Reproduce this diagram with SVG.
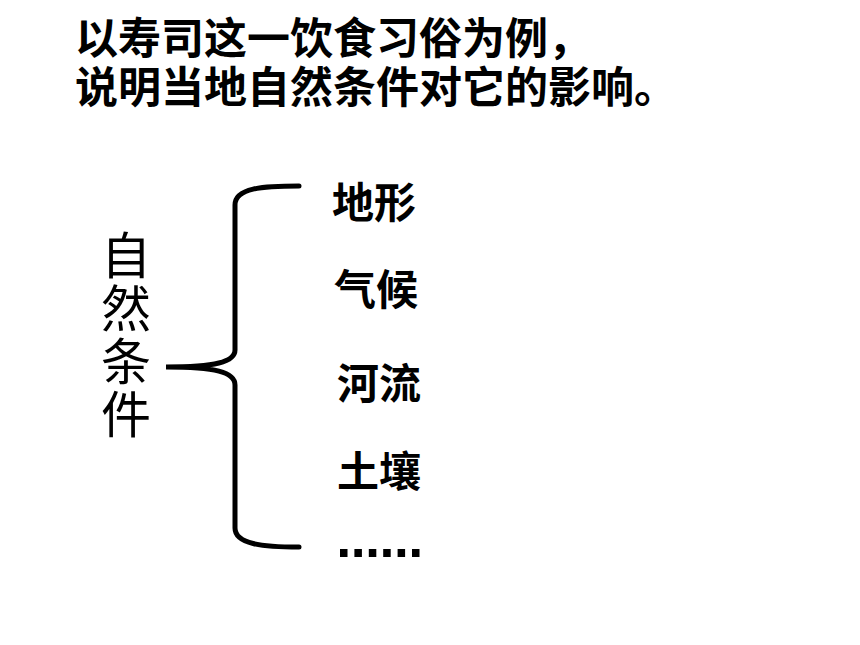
<svg xmlns="http://www.w3.org/2000/svg" width="860" height="645" viewBox="0 0 860 645">
<style>
.t{font-family:"Liberation Sans","Noto Sans CJK SC",sans-serif;font-weight:bold;fill:#000;font-size:43px}
.v{font-family:"Noto Sans CJK SC","Liberation Sans",sans-serif;font-weight:normal;fill:#000;font-size:50px;writing-mode:vertical-rl;letter-spacing:3px}
.i{font-family:"Noto Sans CJK SC","Liberation Sans",sans-serif;font-weight:bold;fill:#000;font-size:42px}
.br{fill:none;stroke:#000;stroke-width:5;stroke-linecap:round}
.d{fill:#000}
</style>
<rect width="860" height="645" fill="#fff"/>
<g id="title">
<text class="t" x="75" y="54">以寿司这一饮食习俗为例，</text>
<text class="t" x="75" y="103">说明当地自然条件对它的影响。</text>
</g>
<g id="root">
<text class="v" x="126" y="230">自然条件</text>
</g>
<g id="connectors">
<path class="br" d="M299,186 C262,186 235,188 235,205 L235,350 C235,362 215,367 166,367 C215,367 235,372 235,385 L235,528 C235,544 262,547 299,547"/>
</g>
<g id="item1"><text class="i" x="332" y="218">地形</text></g>
<g id="item2"><text class="i" x="334" y="305">气候</text></g>
<g id="item3"><text class="i" x="337" y="399">河流</text></g>
<g id="item4"><text class="i" x="337" y="487">土壤</text></g>
<g id="item5">
<rect class="d" x="340" y="549" width="7.5" height="8"/>
<rect class="d" x="354.4" y="549" width="7.5" height="8"/>
<rect class="d" x="368.8" y="549" width="7.5" height="8"/>
<rect class="d" x="383.2" y="549" width="7.5" height="8"/>
<rect class="d" x="397.6" y="549" width="7.5" height="8"/>
<rect class="d" x="412" y="549" width="7.5" height="8"/>
</g>
</svg>
